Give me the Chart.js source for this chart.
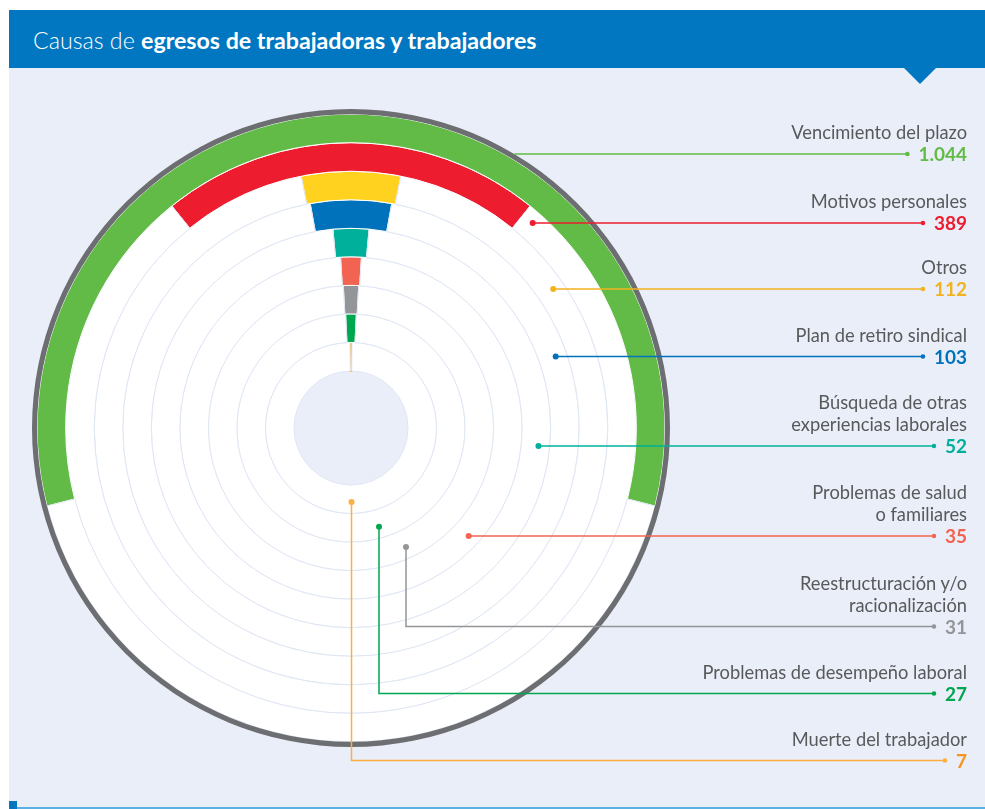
<!DOCTYPE html>
<html lang="es">
<head>
<meta charset="utf-8">
<title>Causas de egresos de trabajadoras y trabajadores</title>
<script src="https://cdn.jsdelivr.net/npm/chart.js@4.4.1/dist/chart.umd.min.js"></script>
<style>
  html, body { margin: 0; padding: 0; background: #ffffff; }
  #page { position: relative; width: 985px; height: 809px; overflow: hidden; font-family: Lato, "Noto Sans", sans-serif; }
  #panel { position: absolute; left: 9px; top: 10px; right: 0; bottom: 0; background: #eaeef8; }
  #title { position: absolute; left: 9px; top: 10px; right: 0; height: 58px; background: #0077c0; color: #fff;
           font-size: 23.2px; line-height: 60px; padding-left: 24px; box-sizing: border-box; }
  #title span { font-weight: 300; }
  #title b { font-weight: 700; }
  #notch { position: absolute; left: 903px; top: 67px; width: 0; height: 0;
           border-left: 17px solid transparent; border-right: 17px solid transparent; border-top: 17px solid #0077c0; }
  #foot { position: absolute; left: 9px; right: 0; top: 807px; height: 2px; background: #5ab0e2; }
  #footMark { position: absolute; left: 9px; top: 801px; width: 8px; height: 8px; background: #0077c0; }
  #chart { position: absolute; left: 0; top: 0; }
  .lbl { position: absolute; right: 18px; text-align: right; line-height: 22px; font-size: 18.3px; color: #58595b; }
  .lbl .val { font-weight: 700; font-size: 19px; }
</style>
</head>
<body>
<div id="page">
  <div id="panel"></div>
  <div id="title"><span>Causas de </span><b>egresos de trabajadoras y trabajadores</b></div>
  <div id="notch"></div>
  <div id="foot"></div>
  <div id="footMark"></div>
  <canvas id="chart" width="985" height="809"></canvas>
</div>
<script>
// datos: causas de egreso (de afuera hacia adentro)
const categories = [
  ["Vencimiento del plazo"],
  ["Motivos personales"],
  ["Otros"],
  ["Plan de retiro sindical"],
  ["Búsqueda de otras", "experiencias laborales"],
  ["Problemas de salud", "o familiares"],
  ["Reestructuración y/o", "racionalización"],
  ["Problemas de desempeño laboral"],
  ["Muerte del trabajador"]
];
const values = [1044, 389, 112, 103, 52, 35, 31, 27, 7];

const barColors = ["#62bb46", "#ed1c2e", "#ffd21f", "#0072bc", "#00b09b", "#f26451", "#939598", "#00a650", "#fbb040"];
const textColors = ["#62bb46", "#ed1c2e", "#f2b31f", "#0072bc", "#00b09b", "#f26451", "#939598", "#00a650", "#f7941d"];
const lineColors = ["#62bb46", "#ed1c2e", "#f2b31f", "#0072bc", "#00b09b", "#f26451", "#939598", "#00a650", "#fbb040"];

// posicion de las lineas guia
const lineY = [154, 223, 289, 356.5, 446, 536, 626.5, 693.5, 760.5];
const dropX = [null, null, null, null, null, null, 406, 379, 351.5];

const total = values.reduce((a, b) => a + b, 0);
const fmt = v => String(v).replace(/\B(?=(\d{3})+(?!\d))/g, ".");

// etiquetas a la derecha
const page = document.getElementById("page");
categories.forEach((lines, i) => {
  const box = document.createElement("div");
  box.classList.add("lbl");
  box.style.top = (lineY[i] - 11 - 22 * lines.length) + "px";
  lines.forEach(t => {
    const row = document.createElement("div");
    row.textContent = t;
    box.appendChild(row);
  });
  const val = document.createElement("div");
  val.classList.add("val");
  val.style.color = textColors[i];
  val.textContent = fmt(values[i]);
  box.appendChild(val);
  page.appendChild(box);
});

const leaders = {
  id: "leaders",
  afterDatasetsDraw(chart) {
    const ctx = chart.ctx;
    const frame = chart.getDatasetMeta(0).data[0];
    ctx.save();
    ctx.font = "bold 19px Lato";
    ctx.lineWidth = 1.5;
    values.forEach((v, i) => {
      const arc = chart.getDatasetMeta(i + 1).data[0];
      const cx = arc.x, cy = arc.y;
      const r = arc.innerRadius + (arc.outerRadius - arc.innerRadius) * 0.6;
      const y = lineY[i];
      const endX = 967 - ctx.measureText(fmt(v)).width - 11;
      const pts = [];
      let dot = true;
      if (i === 0) {
        const ro = frame.outerRadius;
        pts.push([cx + Math.sqrt(ro * ro - (y - cy) * (y - cy)), y]);
        dot = false;
      } else if (dropX[i] === null) {
        pts.push([cx + Math.sqrt(r * r - (y - cy) * (y - cy)), y]);
      } else {
        const dx = dropX[i] - cx;
        pts.push([dropX[i], cy + Math.sqrt(r * r - dx * dx)]);
        pts.push([dropX[i], y]);
      }
      pts.push([endX, y]);

      ctx.strokeStyle = lineColors[i];
      ctx.fillStyle = lineColors[i];
      ctx.beginPath();
      pts.forEach((p, k) => k ? ctx.lineTo(p[0], p[1]) : ctx.moveTo(p[0], p[1]));
      ctx.stroke();
      if (dot) {
        ctx.beginPath();
        ctx.arc(pts[0][0], pts[0][1], 3, 0, Math.PI * 2);
        ctx.fill();
      }
      ctx.beginPath();
      ctx.arc(endX, y, 2.3, 0, Math.PI * 2);
      ctx.fill();
    });
    ctx.restore();
  }
};

const datasets = [{
  data: [total],
  backgroundColor: ["#6d6e71"],
  borderWidth: 0,
  hoverBorderWidth: 0,
  weight: 0.18
}];
values.forEach((v, i) => {
  // las barras muy finas llevan borde de su propio color para que se vean
  const thin = v / total < 0.01;
  datasets.push({
    data: [v, total - v],
    backgroundColor: [barColors[i], "#ffffff"],
    borderColor: [thin ? barColors[i] : "#ffffff", "#dfe6f4"],
    borderWidth: [thin ? 2 : 1, 1],
    hoverBorderWidth: 1,
    rotation: -v / total * 180,
    weight: 1
  });
});

new Chart(document.getElementById("chart"), {
  type: "doughnut",
  data: { labels: ["valor", "resto"], datasets: datasets },
  options: {
    responsive: false,
    animation: false,
    events: [],
    cutout: 57,
    layout: { padding: { left: 32, top: 109, right: 315, bottom: 62 } },
    plugins: { legend: { display: false }, tooltip: { enabled: false } }
  },
  plugins: [leaders]
});
</script>
</body>
</html>
